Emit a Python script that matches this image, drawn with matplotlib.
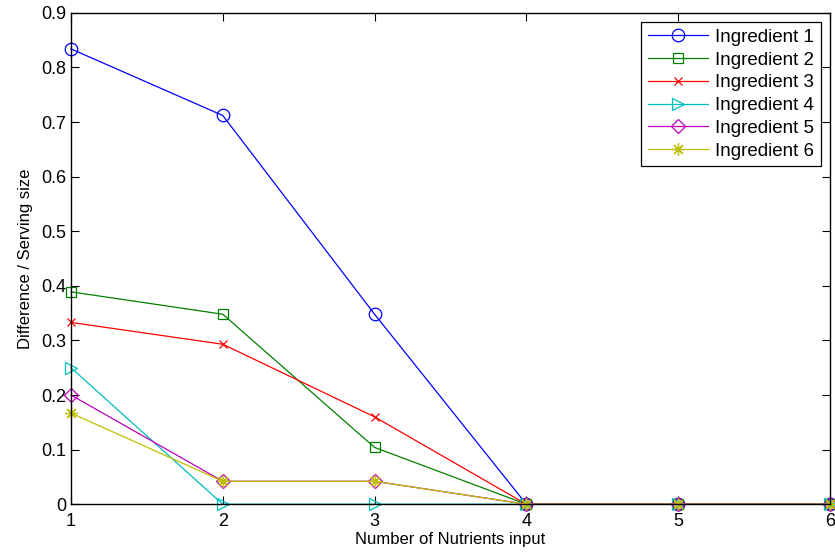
import matplotlib
matplotlib.use('Agg')
from matplotlib import pyplot as plt

plt.rcParams['font.family'] = ['Liberation Sans', 'DejaVu Sans']

nutrients = [1, 2, 3, 4, 5, 6]
ing1 = [0.834, 0.712, 0.348, 0, 0, 0]
ing2 = [0.389, 0.348, 0.104, 0, 0, 0]
ing3 = [0.333, 0.293, 0.160, 0, 0, 0]
ing4 = [0.250, 0, 0, 0, 0, 0]
ing5 = [0.200, 0.042, 0.042, 0, 0, 0]
ing6 = [0.167, 0.042, 0.042, 0, 0, 0]

series = [ing1, ing2, ing3, ing4, ing5, ing6]
labels = ['Ingredient 1', 'Ingredient 2', 'Ingredient 3',
          'Ingredient 4', 'Ingredient 5', 'Ingredient 6']
colors = ['#0000ff', '#008000', '#ff0000', '#00bfbf', '#bf00bf', '#bfbf00']
markers = ['o', 's', 'x', '>', 'D', (8, 2, 0)]
msizes = [9, 7, 6, 9, 7, 9]

fig = plt.figure(figsize=(8.35, 5.59), dpi=100)
ax = fig.add_axes([0.085, 0.098, 0.909, 0.879])

for ys, lab, c, m, ms in zip(series, labels, colors, markers, msizes):
    if m in ('x',) or isinstance(m, tuple):
        ax.plot(nutrients, ys, color=c, marker=m, markersize=ms, lw=0.9,
                markeredgewidth=0.9, label=lab, clip_on=False)
    else:
        ax.plot(nutrients, ys, color=c, marker=m, markersize=ms, lw=0.9,
                markerfacecolor='none', markeredgecolor=c,
                markeredgewidth=0.9, label=lab, clip_on=False)

ax.set_xlim(1, 6)
ax.set_ylim(0, 0.9)
ax.set_xticks(nutrients)
ax.set_yticks([0, 0.1, 0.2, 0.3, 0.4, 0.5, 0.6, 0.7, 0.8, 0.9])
ax.set_yticklabels(['0', '0.1', '0.2', '0.3', '0.4', '0.5', '0.6', '0.7', '0.8', '0.9'])
ax.tick_params(direction='in', length=6, labelsize=13, top=True, right=True, width=0.8)
ax.tick_params(axis='x', pad=6)
for sp in ax.spines.values():
    sp.set_linewidth(1.0)

ax.set_xlabel('Number of Nutrients input', fontsize=12, labelpad=2)
ax.set_ylabel('Difference / Serving size', fontsize=12, labelpad=6)

leg = ax.legend(loc='upper right', fontsize=13.5, fancybox=False, framealpha=1,
                edgecolor='black', borderaxespad=0.5, handlelength=3.2,
                labelspacing=0.3, borderpad=0.35, handletextpad=0.4)
leg.get_frame().set_linewidth(0.9)

fig.savefig('out.png', dpi=100)
